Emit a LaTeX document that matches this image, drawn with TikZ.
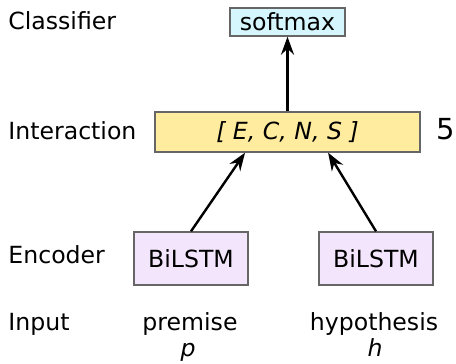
\documentclass[tikz,border=0pt]{standalone}
\usepackage{fontspec}
\setmainfont{DejaVu Sans}
\usetikzlibrary{arrows.meta}
\definecolor{softcol}{HTML}{D5F6FC}
\definecolor{intercol}{HTML}{FFEC9F}
\definecolor{enccol}{HTML}{F3E5FB}
\begin{document}
\begin{tikzpicture}[x = 0.5pt, y = -0.5pt, font=\fontsize{11.8}{14}\selectfont,
        layer/.style={anchor=base west, inner sep=0pt},
        word/.style={anchor=base, inner sep=0pt},
        box/.style={rectangle, draw=black!60, line width=0.7pt, inner sep=0pt},
        softbox/.style={box, fill=softcol, minimum width=57.5pt, minimum height=14pt},
        interbox/.style={box, fill=intercol, minimum width=132.5pt, minimum height=20pt},
        encbox/.style={box, fill=enccol, minimum width=57pt, minimum height=26.5pt},
        arr/.style={-{Stealth[length=9pt, width=6.5pt, inset=3pt]}, line width=1.2pt}]

        \useasboundingbox (0, 0) rectangle (456, 364);

        % row labels
        \node[layer] at (8, 30) (lclass) {Classifier};
        \node[layer] at (8, 140) (linter) {Interaction};
        \node[layer] at (8, 263) (lenc) {Encoder};
        \node[layer] at (8, 330) (linput) {Input};

        \node[softbox] at (287.5, 22) (soft) {softmax};
        \node[interbox] at (287.5, 132) (inter) {\itshape [ E, C, N, S ]};
        \node[layer, font=\fontsize{14.5}{16}\selectfont] at (436, 140) (num) {5};

        \node[encbox] at (191, 258.5) (encp) {BiLSTM};
        \node[encbox] at (376, 258.5) (ench) {BiLSTM};

        \node[word] at (190, 330) (prem) {premise};
        \node[word] at (188, 356) (p) {\itshape p};
        \node[word] at (374, 330) (hyp) {hypothesis};
        \node[word] at (375, 356) (h) {\itshape h};

        \draw[arr] (encp.north) -- (inter.206.57);
        \draw[arr] (ench.north) -- (inter.333.43);
        \draw[arr] (inter.north) -- (soft.south);
\end{tikzpicture}
\end{document}
